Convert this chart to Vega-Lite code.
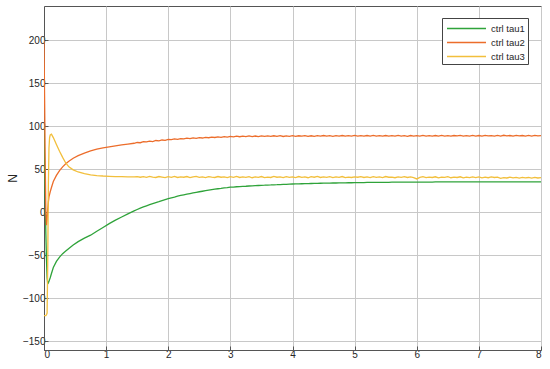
{
  "$schema": "https://vega.github.io/schema/vega-lite/v6.json",
  "autosize": "none",
  "width": 497,
  "height": 344,
  "padding": {"left": 44, "top": 6, "right": 9, "bottom": 19},
  "background": "white",
  "config": {
    "font": "Liberation Sans",
    "view": {"stroke": "#555555", "strokeWidth": 1},
    "axis": {
      "labelFont": "Liberation Sans",
      "labelFontSize": 10,
      "labelColor": "#262626",
      "gridColor": "#c8c8c8",
      "gridOpacity": 1,
      "domainColor": "#555555",
      "ticks": true,
      "tickSize": -4,
      "tickColor": "#555555",
      "labelPadding": 3,
      "titleFont": "Liberation Sans",
      "titleFontWeight": "normal",
      "titleColor": "#262626"
    },
    "legend": {
      "labelFont": "Liberation Sans"
    }
  },
  "data": {
    "values": [
      {"t": 0, "tau1": 100, "tau2": 200, "tau3": -120},
      {"t": 0.01, "tau1": 60, "tau2": 130, "tau3": -120},
      {"t": 0.02, "tau1": 15, "tau2": 55, "tau3": -120},
      {"t": 0.03, "tau1": -25, "tau2": 0, "tau3": -120},
      {"t": 0.04, "tau1": -55, "tau2": -15, "tau3": -119},
      {"t": 0.05, "tau1": -76, "tau2": -8, "tau3": -117},
      {"t": 0.06, "tau1": -83, "tau2": 4, "tau3": -60},
      {"t": 0.07, "tau1": -82, "tau2": 12, "tau3": 30},
      {"t": 0.08, "tau1": -80, "tau2": 18, "tau3": 75},
      {"t": 0.09, "tau1": -78, "tau2": 21, "tau3": 87},
      {"t": 0.1, "tau1": -76, "tau2": 24, "tau3": 90},
      {"t": 0.12, "tau1": -71, "tau2": 29, "tau3": 91},
      {"t": 0.15, "tau1": -64, "tau2": 36, "tau3": 87},
      {"t": 0.2, "tau1": -57, "tau2": 43, "tau3": 79},
      {"t": 0.25, "tau1": -52, "tau2": 48.5, "tau3": 71},
      {"t": 0.3, "tau1": -48, "tau2": 53, "tau3": 64},
      {"t": 0.35, "tau1": -45, "tau2": 56.5, "tau3": 57.5},
      {"t": 0.4, "tau1": -42, "tau2": 59.5, "tau3": 53},
      {"t": 0.47, "tau1": -38, "tau2": 63, "tau3": 49.5},
      {"t": 0.55, "tau1": -34, "tau2": 66, "tau3": 47},
      {"t": 0.65, "tau1": -30, "tau2": 69, "tau3": 45},
      {"t": 0.75, "tau1": -26.5, "tau2": 71.5, "tau3": 43.6},
      {"t": 0.85, "tau1": -22, "tau2": 73.5, "tau3": 42.8},
      {"t": 0.95, "tau1": -17.5, "tau2": 75, "tau3": 42.3},
      {"t": 1.05, "tau1": -13, "tau2": 76.2, "tau3": 42},
      {"t": 1.15, "tau1": -9, "tau2": 77.4, "tau3": 41.7},
      {"t": 1.25, "tau1": -5.3, "tau2": 78.5, "tau3": 41.6},
      {"t": 1.35, "tau1": -1.7, "tau2": 79.5, "tau3": 41.4},
      {"t": 1.45, "tau1": 1.7, "tau2": 80.4, "tau3": 41.3},
      {"t": 1.5, "tau1": 3.4, "tau2": 81.3, "tau3": 41.6},
      {"t": 1.55, "tau1": 5.0, "tau2": 81.0, "tau3": 40.9},
      {"t": 1.6, "tau1": 6.4, "tau2": 82.2, "tau3": 41.5},
      {"t": 1.65, "tau1": 7.7, "tau2": 81.9, "tau3": 40.7},
      {"t": 1.7, "tau1": 9.0, "tau2": 82.8, "tau3": 41.8},
      {"t": 1.75, "tau1": 10.3, "tau2": 82.4, "tau3": 41.0},
      {"t": 1.8, "tau1": 11.5, "tau2": 83.6, "tau3": 40.6},
      {"t": 1.85, "tau1": 12.6, "tau2": 83.1, "tau3": 41.7},
      {"t": 1.9, "tau1": 13.8, "tau2": 84.2, "tau3": 41.1},
      {"t": 1.95, "tau1": 14.9, "tau2": 83.8, "tau3": 40.5},
      {"t": 2.0, "tau1": 16.0, "tau2": 84.9, "tau3": 41.5},
      {"t": 2.05, "tau1": 16.9, "tau2": 84.6, "tau3": 40.8},
      {"t": 2.1, "tau1": 17.8, "tau2": 85.4, "tau3": 41.9},
      {"t": 2.15, "tau1": 18.8, "tau2": 84.9, "tau3": 40.6},
      {"t": 2.2, "tau1": 19.7, "tau2": 85.8, "tau3": 41.3},
      {"t": 2.25, "tau1": 20.5, "tau2": 85.5, "tau3": 40.9},
      {"t": 2.3, "tau1": 21.2, "tau2": 86.3, "tau3": 41.7},
      {"t": 2.35, "tau1": 21.9, "tau2": 85.7, "tau3": 40.4},
      {"t": 2.4, "tau1": 22.6, "tau2": 86.6, "tau3": 41.2},
      {"t": 2.45, "tau1": 23.3, "tau2": 86.1, "tau3": 41.8},
      {"t": 2.5, "tau1": 24.0, "tau2": 87.0, "tau3": 40.7},
      {"t": 2.55, "tau1": 24.6, "tau2": 86.5, "tau3": 41.4},
      {"t": 2.6, "tau1": 25.2, "tau2": 87.3, "tau3": 40.5},
      {"t": 2.65, "tau1": 25.8, "tau2": 86.8, "tau3": 41.6},
      {"t": 2.7, "tau1": 26.4, "tau2": 87.6, "tau3": 41.0},
      {"t": 2.75, "tau1": 27.0, "tau2": 87.1, "tau3": 40.6},
      {"t": 2.8, "tau1": 27.5, "tau2": 87.9, "tau3": 41.7},
      {"t": 2.85, "tau1": 27.9, "tau2": 87.3, "tau3": 40.9},
      {"t": 2.9, "tau1": 28.4, "tau2": 88.2, "tau3": 41.3},
      {"t": 2.95, "tau1": 28.8, "tau2": 87.6, "tau3": 40.4},
      {"t": 3.0, "tau1": 29.3, "tau2": 88.3, "tau3": 41.5},
      {"t": 3.05, "tau1": 29.5, "tau2": 87.8, "tau3": 40.8},
      {"t": 3.1, "tau1": 29.8, "tau2": 88.6, "tau3": 41.9},
      {"t": 3.15, "tau1": 30.0, "tau2": 88.0, "tau3": 40.6},
      {"t": 3.2, "tau1": 30.2, "tau2": 88.7, "tau3": 41.2},
      {"t": 3.25, "tau1": 30.4, "tau2": 88.1, "tau3": 40.7},
      {"t": 3.3, "tau1": 30.7, "tau2": 88.9, "tau3": 41.6},
      {"t": 3.35, "tau1": 30.9, "tau2": 88.2, "tau3": 40.3},
      {"t": 3.4, "tau1": 31.1, "tau2": 88.8, "tau3": 41.4},
      {"t": 3.45, "tau1": 31.3, "tau2": 88.1, "tau3": 40.8},
      {"t": 3.5, "tau1": 31.5, "tau2": 89.0, "tau3": 41.7},
      {"t": 3.55, "tau1": 31.6, "tau2": 88.3, "tau3": 40.5},
      {"t": 3.6, "tau1": 31.8, "tau2": 88.9, "tau3": 41.1},
      {"t": 3.65, "tau1": 31.9, "tau2": 88.4, "tau3": 40.6},
      {"t": 3.7, "tau1": 32.1, "tau2": 89.1, "tau3": 41.8},
      {"t": 3.75, "tau1": 32.2, "tau2": 88.5, "tau3": 40.9},
      {"t": 3.8, "tau1": 32.4, "tau2": 89.2, "tau3": 41.3},
      {"t": 3.85, "tau1": 32.6, "tau2": 88.3, "tau3": 40.4},
      {"t": 3.9, "tau1": 32.7, "tau2": 89.0, "tau3": 41.6},
      {"t": 3.95, "tau1": 32.9, "tau2": 88.5, "tau3": 40.7},
      {"t": 4.0, "tau1": 33.0, "tau2": 89.2, "tau3": 41.2},
      {"t": 4.05, "tau1": 33.1, "tau2": 88.4, "tau3": 40.5},
      {"t": 4.1, "tau1": 33.2, "tau2": 89.1, "tau3": 41.7},
      {"t": 4.15, "tau1": 33.3, "tau2": 88.6, "tau3": 40.8},
      {"t": 4.2, "tau1": 33.4, "tau2": 89.3, "tau3": 41.4},
      {"t": 4.25, "tau1": 33.5, "tau2": 88.5, "tau3": 40.3},
      {"t": 4.3, "tau1": 33.6, "tau2": 89.1, "tau3": 41.5},
      {"t": 4.35, "tau1": 33.7, "tau2": 88.4, "tau3": 40.9},
      {"t": 4.4, "tau1": 33.8, "tau2": 89.2, "tau3": 41.8},
      {"t": 4.45, "tau1": 33.9, "tau2": 88.7, "tau3": 40.6},
      {"t": 4.5, "tau1": 34.0, "tau2": 89.4, "tau3": 41.2},
      {"t": 4.55, "tau1": 34.0, "tau2": 88.6, "tau3": 40.7},
      {"t": 4.6, "tau1": 34.1, "tau2": 89.2, "tau3": 41.6},
      {"t": 4.65, "tau1": 34.2, "tau2": 88.5, "tau3": 40.4},
      {"t": 4.7, "tau1": 34.2, "tau2": 89.3, "tau3": 41.3},
      {"t": 4.75, "tau1": 34.3, "tau2": 88.7, "tau3": 40.8},
      {"t": 4.8, "tau1": 34.4, "tau2": 89.4, "tau3": 41.7},
      {"t": 4.85, "tau1": 34.4, "tau2": 88.6, "tau3": 40.5},
      {"t": 4.9, "tau1": 34.5, "tau2": 89.2, "tau3": 41.1},
      {"t": 4.95, "tau1": 34.5, "tau2": 88.8, "tau3": 40.6},
      {"t": 5.0, "tau1": 34.6, "tau2": 89.5, "tau3": 41.4},
      {"t": 5.05, "tau1": 34.6, "tau2": 88.7, "tau3": 40.9},
      {"t": 5.1, "tau1": 34.7, "tau2": 89.3, "tau3": 41.5},
      {"t": 5.15, "tau1": 34.7, "tau2": 88.6, "tau3": 40.6},
      {"t": 5.2, "tau1": 34.8, "tau2": 89.4, "tau3": 41.2},
      {"t": 5.25, "tau1": 34.8, "tau2": 88.8, "tau3": 40.4},
      {"t": 5.3, "tau1": 34.9, "tau2": 89.5, "tau3": 41.6},
      {"t": 5.35, "tau1": 34.9, "tau2": 88.7, "tau3": 40.8},
      {"t": 5.4, "tau1": 34.9, "tau2": 89.2, "tau3": 41.3},
      {"t": 5.45, "tau1": 35.0, "tau2": 88.6, "tau3": 40.5},
      {"t": 5.5, "tau1": 35.0, "tau2": 89.4, "tau3": 41.7},
      {"t": 5.55, "tau1": 35.0, "tau2": 88.8, "tau3": 40.9},
      {"t": 5.6, "tau1": 35.1, "tau2": 89.3, "tau3": 41.1},
      {"t": 5.65, "tau1": 35.1, "tau2": 88.6, "tau3": 40.3},
      {"t": 5.7, "tau1": 35.1, "tau2": 89.5, "tau3": 41.4},
      {"t": 5.75, "tau1": 35.1, "tau2": 88.7, "tau3": 40.7},
      {"t": 5.8, "tau1": 35.2, "tau2": 89.2, "tau3": 41.6},
      {"t": 5.85, "tau1": 35.2, "tau2": 88.5, "tau3": 40.6},
      {"t": 5.9, "tau1": 35.2, "tau2": 89.4, "tau3": 41.2},
      {"t": 5.95, "tau1": 35.2, "tau2": 88.8, "tau3": 40.5},
      {"t": 6.0, "tau1": 35.2, "tau2": 89.3, "tau3": 38.9},
      {"t": 6.05, "tau1": 35.3, "tau2": 88.6, "tau3": 40.8},
      {"t": 6.1, "tau1": 35.3, "tau2": 89.5, "tau3": 41.5},
      {"t": 6.15, "tau1": 35.3, "tau2": 88.8, "tau3": 40.4},
      {"t": 6.2, "tau1": 35.3, "tau2": 89.3, "tau3": 41.1},
      {"t": 6.25, "tau1": 35.3, "tau2": 88.6, "tau3": 40.6},
      {"t": 6.3, "tau1": 35.4, "tau2": 89.4, "tau3": 41.4},
      {"t": 6.35, "tau1": 35.4, "tau2": 88.7, "tau3": 40.2},
      {"t": 6.4, "tau1": 35.4, "tau2": 89.6, "tau3": 41.0},
      {"t": 6.45, "tau1": 35.4, "tau2": 88.8, "tau3": 40.7},
      {"t": 6.5, "tau1": 35.4, "tau2": 89.3, "tau3": 41.5},
      {"t": 6.55, "tau1": 35.4, "tau2": 88.6, "tau3": 40.3},
      {"t": 6.6, "tau1": 35.5, "tau2": 89.4, "tau3": 41.1},
      {"t": 6.65, "tau1": 35.5, "tau2": 88.9, "tau3": 40.6},
      {"t": 6.7, "tau1": 35.5, "tau2": 89.6, "tau3": 41.4},
      {"t": 6.75, "tau1": 35.5, "tau2": 88.7, "tau3": 40.1},
      {"t": 6.8, "tau1": 35.5, "tau2": 89.3, "tau3": 40.9},
      {"t": 6.85, "tau1": 35.5, "tau2": 88.6, "tau3": 40.4},
      {"t": 6.9, "tau1": 35.5, "tau2": 89.5, "tau3": 41.2},
      {"t": 6.95, "tau1": 35.5, "tau2": 88.8, "tau3": 40.5},
      {"t": 7.0, "tau1": 35.5, "tau2": 89.4, "tau3": 41.3},
      {"t": 7.05, "tau1": 35.6, "tau2": 88.7, "tau3": 40.2},
      {"t": 7.1, "tau1": 35.6, "tau2": 89.6, "tau3": 40.9},
      {"t": 7.15, "tau1": 35.6, "tau2": 88.9, "tau3": 40.3},
      {"t": 7.2, "tau1": 35.6, "tau2": 89.3, "tau3": 41.2},
      {"t": 7.25, "tau1": 35.6, "tau2": 88.6, "tau3": 40.6},
      {"t": 7.3, "tau1": 35.6, "tau2": 89.5, "tau3": 41.1},
      {"t": 7.35, "tau1": 35.6, "tau2": 88.8, "tau3": 39.6},
      {"t": 7.4, "tau1": 35.6, "tau2": 89.7, "tau3": 40.5},
      {"t": 7.45, "tau1": 35.6, "tau2": 89.0, "tau3": 40.0},
      {"t": 7.5, "tau1": 35.6, "tau2": 89.4, "tau3": 40.9},
      {"t": 7.55, "tau1": 35.6, "tau2": 88.7, "tau3": 40.2},
      {"t": 7.6, "tau1": 35.6, "tau2": 89.6, "tau3": 40.7},
      {"t": 7.65, "tau1": 35.6, "tau2": 88.9, "tau3": 39.9},
      {"t": 7.7, "tau1": 35.6, "tau2": 89.4, "tau3": 40.8},
      {"t": 7.75, "tau1": 35.6, "tau2": 88.6, "tau3": 40.1},
      {"t": 7.8, "tau1": 35.6, "tau2": 89.5, "tau3": 40.6},
      {"t": 7.85, "tau1": 35.6, "tau2": 88.8, "tau3": 39.8},
      {"t": 7.9, "tau1": 35.6, "tau2": 89.6, "tau3": 40.7},
      {"t": 7.95, "tau1": 35.6, "tau2": 88.9, "tau3": 40.0},
      {"t": 8.0, "tau1": 35.6, "tau2": 89.3, "tau3": 40.4}
    ]
  },
  "transform": [
    {"fold": ["tau1", "tau2", "tau3"], "as": ["series", "value"]}
  ],
  "mark": {"type": "line", "strokeWidth": 1.3, "clip": true},
  "encoding": {
    "x": {
      "field": "t",
      "type": "quantitative",
      "scale": {"domain": [0, 8], "nice": false, "zero": false},
      "axis": {"values": [0, 1, 2, 3, 4, 5, 6, 7, 8], "title": null, "format": "d"}
    },
    "y": {
      "field": "value",
      "type": "quantitative",
      "scale": {"domain": [-160, 240], "nice": false, "zero": false},
      "axis": {
        "values": [-150, -100, -50, 0, 50, 100, 150, 200],
        "format": "d",
        "title": "N",
        "titleFontSize": 12,
        "titleX": -25,
        "titleY": 172,
        "titleAngle": -90,
        "titleAlign": "center",
        "titleBaseline": "bottom"
      }
    },
    "color": {
      "field": "series",
      "type": "nominal",
      "scale": {"domain": ["tau1", "tau2", "tau3"], "range": ["#2fa33a", "#ec6d2b", "#f2bf3c"]},
      "legend": {
        "title": null,
        "orient": "none",
        "legendX": 398,
        "legendY": 12,
        "labelExpr": "'ctrl ' + datum.label",
        "labelFontSize": 9.5,
        "labelColor": "#262626",
        "symbolType": "M-3,0H3",
        "symbolSize": 169,
        "symbolStrokeWidth": 1.5,
        "symbolOffset": 14,
        "labelOffset": 17,
        "strokeColor": "#444444",
        "fillColor": "white",
        "padding": 3,
        "rowPadding": 2
      }
    }
  }
}
